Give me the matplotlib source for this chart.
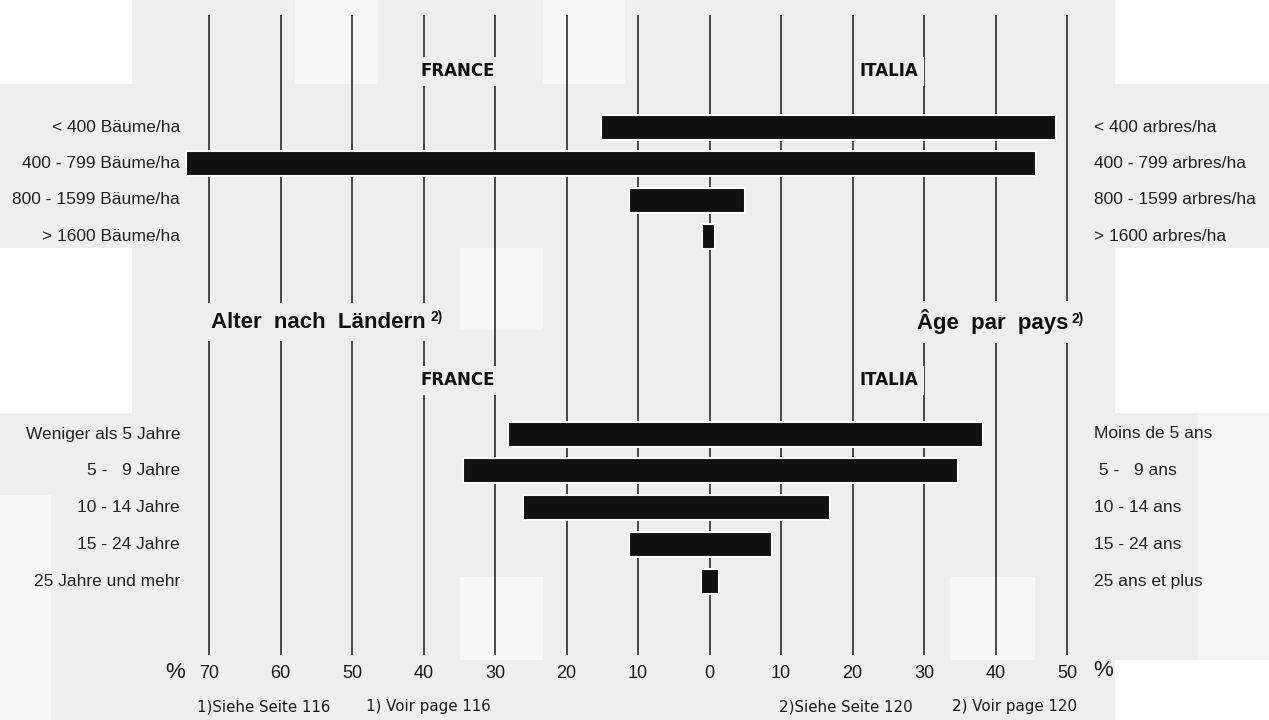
import numpy as np
import matplotlib.pyplot as plt
from matplotlib.patches import Rectangle

# Dichte nach Ländern (France links, Italia rechts), in %
density_de = ['< 400 Bäume/ha', '400 - 799 Bäume/ha', '800 - 1599 Bäume/ha', '> 1600 Bäume/ha']
density_fr = ['< 400 arbres/ha', '400 - 799 arbres/ha', '800 - 1599 arbres/ha', '> 1600 arbres/ha']
density_france = [15.2, 73.2, 11.3, 1.0]
density_italia = [48.4, 45.6, 5.0, 0.7]

# Alter nach Ländern
age_de = ['Weniger als 5 Jahre', '5 -   9 Jahre', '10 - 14 Jahre', '15 - 24 Jahre', '25 Jahre und mehr']
age_fr = ['Moins de 5 ans', ' 5 -   9 ans', '10 - 14 ans', '15 - 24 ans', '25 ans et plus']
age_france = [28.2, 34.5, 26.1, 11.3, 1.2]
age_italia = [38.3, 34.8, 16.9, 8.8, 1.3]

ticks = [-70, -60, -50, -40, -30, -20, -10, 0, 10, 20, 30, 40, 50]
tick_labels = ['70', '60', '50', '40', '30', '20', '10', '0', '10', '20', '30', '40', '50']

BG = '#eeeeee'
plt.rcParams['font.family'] = ['Liberation Sans', 'DejaVu Sans']

fig = plt.figure(figsize=(12.69, 7.2), dpi=100, facecolor=BG)

# helle Flecken / weisse Ränder des Scans (Pixel der Abbildung)
patches = [
    (0, 0, 132, 84, 'white'), (1115, 0, 154, 84, 'white'),
    (0, 248, 132, 165, 'white'), (1115, 248, 154, 165, 'white'),
    (1115, 660, 154, 60, 'white'), (0, 495, 51, 225, '#f7f7f7'),
    (1198, 413, 71, 247, '#f5f5f5'),
    (295, 0, 83, 84, '#f6f6f6'), (543, 0, 82, 84, '#f6f6f6'),
    (460, 248, 83, 82, '#f6f6f6'), (460, 577, 83, 83, '#f6f6f6'),
    (950, 577, 85, 83, '#f6f6f6'),
]
for px, py, w, h, c in patches:
    fig.patches.append(Rectangle((px / 1269, 1 - (py + h) / 720), w / 1269, h / 720,
                                 transform=fig.transFigure, facecolor=c, edgecolor='none', zorder=-1))

ax = fig.add_axes([0, 0, 1, 1])
ax.set_facecolor('none')
x0, sc = 709.5, 7.15   # Pixel von 0 und Pixel pro %
ax.set_xlim(-x0 / sc, (1269 - x0) / sc)
ax.set_ylim(720, 0)
ax.axis('off')

ax.vlines(ticks, 15, 655, color='#1a1a1a', lw=1.1, zorder=1)

y_density = 127 + 36.5 * np.arange(len(density_de))
y_age = 434 + 36.8 * np.arange(len(age_de))

for ys, fr, it in [(y_density, density_france, density_italia), (y_age, age_france, age_italia)]:
    fr = np.array(fr)
    it = np.array(it)
    ax.barh(ys, fr + it, left=-fr, height=25, color='#111111',
            edgecolor='#fafafa', linewidth=1.5, zorder=3)

lx, rx = (180 - x0) / sc, (1094 - x0) / sc
for ys, de, frl in [(y_density, density_de, density_fr), (y_age, age_de, age_fr)]:
    for y, a, b in zip(ys, de, frl):
        ax.text(lx, y, a, ha='right', va='center', fontsize=12.5, color='#222222')
        ax.text(rx, y, b, ha='left', va='center', fontsize=12.5, color='#222222')

box = dict(facecolor=BG, edgecolor='none', pad=4)
for yy in [71, 380]:
    ax.text((458 - x0) / sc, yy, 'FRANCE', ha='center', va='center', fontsize=12,
            fontweight='bold', family='DejaVu Sans', color='#111111', bbox=box, zorder=4)
    ax.text((889 - x0) / sc, yy, 'ITALIA', ha='center', va='center', fontsize=12,
            fontweight='bold', family='DejaVu Sans', color='#111111', bbox=box, zorder=4)

title_box = dict(facecolor=BG, edgecolor='none', pad=6)
ax.text((426 - x0) / sc, 322, 'Alter  nach  Ländern', ha='right', va='center', fontsize=16,
        fontweight='bold', color='#111111', bbox=title_box, zorder=4)
ax.text((430 - x0) / sc, 317, '2)', ha='left', va='center', fontsize=10, fontweight='bold',
        color='#111111', bbox=dict(facecolor=BG, edgecolor='none', pad=2), zorder=4)
ax.text((1068 - x0) / sc, 322, 'Âge  par  pays', ha='right', va='center', fontsize=16,
        fontweight='bold', color='#111111', bbox=title_box, zorder=4)
ax.text((1072 - x0) / sc, 319, '2)', ha='left', va='center', fontsize=10, fontweight='bold',
        color='#111111', bbox=dict(facecolor=BG, edgecolor='none', pad=2), zorder=4)

for t, lab in zip(ticks, tick_labels):
    ax.text(t, 674, lab, ha='center', va='center', fontsize=13, color='#1a1a1a')
ax.text((175 - x0) / sc, 672, '%', ha='center', va='center', fontsize=16, color='#1a1a1a')
ax.text((1103 - x0) / sc, 670, '%', ha='center', va='center', fontsize=16, color='#1a1a1a')

notes = [(197, '1)Siehe Seite 116'), (366, '1) Voir page 116'),
         (779, '2)Siehe Seite 120'), (952, '2) Voir page 120')]
for px, s in notes:
    ax.text((px - x0) / sc, 707, s, ha='left', va='center', fontsize=10.8,
            family='DejaVu Sans', color='#1a1a1a')

fig.savefig('out.png', dpi=100, facecolor=BG)
